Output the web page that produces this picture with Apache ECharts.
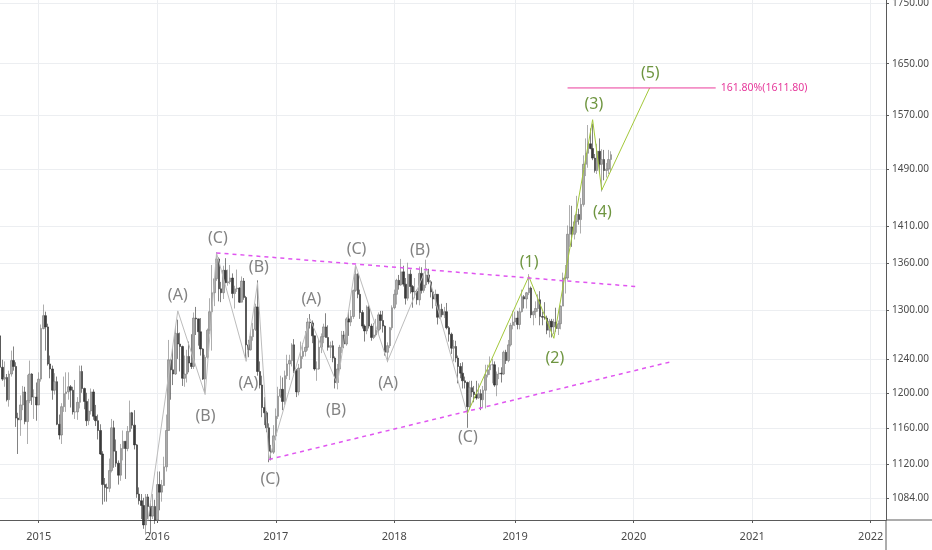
<!DOCTYPE html>
<html>
<head>
<meta charset="utf-8">
<script src="https://cdn.jsdelivr.net/npm/echarts@6/dist/echarts.min.js"></script>
<style>
  html, body { margin: 0; padding: 0; background: #fff; }
  #chart { width: 932px; height: 550px; }
</style>
</head>
<body>
<div id="chart"></div>
<script>
// weekly gold bars, one row per week: [open, high, low, close]
const start2014 = '2014-09-01';
const bars2014 = [
  [1287,1287,1263,1268],[1268,1270,1228,1230],[1230,1239,1214,1216],[1216,1237,1207,1218],[1218,1222,1190,1192],
  [1192,1226,1184,1222],[1222,1250,1219,1238],[1238,1255,1226,1231],[1231,1236,1161,1171],
  [1171,1177,1131,1169],[1169,1197,1151,1186],[1186,1208,1180,1201],[1201,1207,1164,1167],
  [1167,1221,1142,1191],[1191,1238,1188,1222],[1222,1223,1186,1195],[1195,1204,1170,1195],[1195,1212,1168,1186]
];
const start2015 = '2015-01-05';
const bars2015 = [
  [1186,1224,1186,1216],[1216,1282,1213,1277],[1277,1307,1276,1293],[1293,1298,1250,1279],
  [1279,1283,1232,1234],[1234,1244,1217,1228],[1228,1232,1192,1203],[1203,1223,1198,1213],
  [1213,1219,1163,1164],[1164,1175,1147,1152],[1152,1188,1142,1184],[1184,1219,1178,1199],[1199,1224,1178,1201],
  [1201,1224,1192,1207],[1207,1209,1183,1203],[1203,1207,1175,1178],[1178,1215,1170,1178],
  [1178,1195,1169,1189],[1189,1232,1182,1225],[1225,1232,1200,1205],[1205,1206,1181,1190],
  [1190,1200,1162,1168],[1168,1193,1163,1179],[1179,1205,1175,1201],[1201,1204,1169,1173],[1173,1186,1162,1168],
  [1168,1175,1147,1157],[1157,1164,1130,1131],[1131,1134,1077,1098],[1098,1105,1080,1095],
  [1095,1099,1080,1094],[1094,1126,1090,1113],[1113,1170,1111,1160],[1160,1168,1116,1134],[1134,1147,1117,1121],
  [1121,1124,1098,1108],[1108,1142,1102,1137],[1137,1157,1124,1145],[1145,1145,1104,1137],
  [1137,1162,1134,1156],[1156,1191,1155,1177],[1177,1178,1159,1163],[1163,1180,1136,1141],
  [1141,1142,1084,1088],[1088,1095,1077,1081],[1081,1088,1062,1076],[1076,1084,1052,1056],[1056,1088,1046,1085],
  [1085,1088,1062,1075],[1075,1081,1047,1065],[1065,1088,1062,1075],[1075,1082,1057,1061]
];
const start2016 = '2016-01-04';
const bars2016 = [
  [1061,1112,1060,1098],[1098,1112,1071,1090],[1090,1103,1080,1097],[1097,1128,1097,1117],
  [1117,1175,1112,1157],[1157,1263,1157,1239],[1239,1240,1192,1227],[1227,1253,1209,1222],[1222,1280,1221,1271],
  [1271,1288,1240,1258],[1258,1272,1225,1255],[1255,1256,1208,1217],[1217,1244,1207,1222],
  [1222,1251,1212,1243],[1243,1261,1224,1235],[1235,1270,1228,1231],[1231,1297,1228,1290],
  [1290,1304,1269,1289],[1289,1289,1256,1273],[1273,1290,1244,1252],[1252,1253,1215,1216],[1216,1245,1200,1242],
  [1242,1277,1240,1275],[1275,1315,1270,1298],[1298,1358,1250,1322],[1322,1341,1305,1340],
  [1340,1375,1337,1366],[1366,1368,1311,1327],[1327,1336,1310,1322],[1322,1357,1314,1351],
  [1351,1367,1334,1335],[1335,1352,1331,1336],[1336,1358,1333,1341],[1341,1347,1315,1321],[1321,1331,1302,1327],
  [1327,1352,1323,1328],[1328,1329,1309,1310],[1310,1343,1310,1337],[1337,1341,1313,1316],
  [1316,1318,1241,1257],[1257,1263,1242,1251],[1251,1274,1250,1267],[1267,1284,1262,1276],[1276,1308,1274,1304],
  [1304,1338,1220,1225],[1225,1237,1205,1209],[1209,1220,1172,1183],[1183,1195,1163,1177],
  [1177,1179,1155,1160],[1160,1165,1122,1134],[1134,1141,1124,1133],[1133,1163,1131,1151]
];
const start2017 = '2017-01-02';
const bars2017 = [
  [1151,1182,1146,1173],[1173,1207,1170,1196],[1196,1220,1194,1204],[1204,1218,1180,1190],[1190,1226,1186,1220],
  [1220,1245,1216,1234],[1234,1245,1215,1238],[1238,1259,1231,1257],[1257,1264,1223,1226],
  [1226,1228,1195,1201],[1201,1234,1197,1229],[1229,1261,1228,1243],[1243,1259,1240,1249],
  [1249,1274,1243,1254],[1254,1290,1250,1285],[1285,1295,1277,1284],[1284,1287,1259,1268],
  [1268,1268,1226,1228],[1228,1237,1214,1228],[1228,1264,1227,1254],[1254,1271,1247,1267],[1267,1283,1259,1279],
  [1279,1296,1266,1266],[1266,1281,1250,1254],[1254,1261,1241,1256],[1256,1262,1236,1241],
  [1241,1243,1205,1212],[1212,1234,1204,1228],[1228,1257,1226,1254],[1254,1274,1247,1269],[1269,1274,1253,1258],
  [1258,1291,1256,1289],[1289,1300,1268,1285],[1285,1300,1280,1292],[1292,1326,1289,1325],
  [1325,1357,1323,1346],[1346,1347,1315,1320],[1320,1326,1289,1297],[1297,1300,1277,1280],
  [1280,1282,1261,1274],[1274,1306,1270,1304],[1304,1306,1277,1280],[1280,1283,1262,1266],[1266,1284,1264,1269],
  [1269,1289,1267,1275],[1275,1297,1270,1294],[1294,1299,1276,1287],[1287,1299,1272,1280],
  [1280,1281,1244,1248],[1248,1260,1236,1256],[1256,1279,1253,1278],[1278,1306,1275,1303]
];
const start2018 = '2018-01-01';
const bars2018 = [
  [1303,1326,1301,1320],[1320,1340,1307,1338],[1338,1345,1326,1332],[1332,1366,1331,1349],[1349,1357,1330,1333],
  [1333,1341,1307,1315],[1315,1361,1312,1346],[1346,1352,1321,1330],[1330,1332,1303,1323],
  [1323,1341,1315,1324],[1324,1326,1307,1313],[1313,1356,1306,1347],[1347,1355,1321,1325],
  [1325,1347,1322,1332],[1332,1365,1328,1345],[1345,1353,1333,1336],[1336,1338,1316,1323],[1323,1326,1302,1314],
  [1314,1326,1305,1320],[1320,1320,1282,1291],[1291,1307,1289,1301],[1301,1308,1291,1294],
  [1294,1304,1290,1298],[1298,1309,1276,1278],[1278,1280,1261,1270],[1270,1272,1246,1253],
  [1253,1263,1237,1255],[1255,1262,1236,1241],[1241,1244,1211,1231],[1231,1235,1217,1223],[1223,1236,1205,1214],
  [1214,1219,1205,1212],[1212,1213,1160,1184],[1184,1214,1181,1206],[1206,1214,1195,1201],
  [1201,1208,1189,1198],[1198,1214,1192,1194],[1194,1211,1193,1199],[1199,1204,1180,1192],
  [1192,1208,1183,1203],[1203,1233,1182,1221],[1221,1233,1218,1227],[1227,1243,1221,1233],[1233,1240,1211,1233],
  [1233,1237,1207,1209],[1209,1225,1196,1222],[1222,1230,1216,1223],[1223,1230,1212,1222],
  [1222,1250,1221,1248],[1248,1251,1234,1238],[1238,1263,1236,1257],[1257,1284,1255,1281],[1281,1299,1276,1285]
];
const start2019 = '2019-01-07';
const bars2019 = [
  [1285,1298,1280,1290],[1290,1299,1276,1282],[1282,1303,1276,1298],[1298,1326,1297,1317],
  [1317,1319,1302,1314],[1314,1323,1302,1322],[1322,1346,1319,1328],[1328,1330,1290,1294],
  [1294,1299,1281,1298],[1298,1311,1290,1302],[1302,1320,1298,1313],[1313,1324,1281,1292],
  [1292,1298,1281,1291],[1291,1310,1288,1290],[1290,1293,1270,1275],[1275,1289,1266,1286],[1286,1289,1266,1279],
  [1279,1289,1270,1285],[1285,1303,1273,1277],[1277,1287,1269,1283],[1283,1306,1276,1305],
  [1305,1348,1305,1341],[1341,1358,1321,1341],[1341,1411,1338,1399],[1399,1439,1382,1409],
  [1409,1438,1382,1399],[1399,1425,1392,1416],[1416,1452,1401,1426],[1426,1434,1412,1419],[1419,1449,1400,1440],
  [1440,1510,1437,1497],[1497,1535,1480,1513],[1513,1555,1492,1527],[1527,1550,1519,1520],
  [1520,1557,1503,1506],[1506,1512,1485,1488],[1488,1527,1483,1516],[1516,1535,1484,1497],[1497,1519,1458,1504],
  [1504,1518,1474,1488],[1488,1499,1478,1490],[1490,1518,1483,1504],[1504,1516,1487,1511]
];

// price scale and time scale ticks
const priceTicks = [1084, 1120, 1160, 1200, 1240, 1300, 1360, 1410, 1490, 1570, 1650, 1750];
const yearTicks = ['2015-01-05', '2016-01-04', '2017-01-02', '2018-01-01', '2019-01-07', '2020-01-06', '2021-01-04', '2022-01-03'];

// wave drawing: corrective legs (gray) and impulse legs (green)
const grayWaveDates = ['2015-11-30', '2016-03-07', '2016-05-30', '2016-07-04', '2016-10-03', '2016-11-07', '2016-12-12',
  '2017-04-17', '2017-07-10', '2017-09-04', '2017-12-11', '2018-04-09', '2018-08-13'];
const grayWavePrices = [1046, 1299, 1198, 1374, 1237, 1335, 1125, 1289, 1210, 1358, 1237, 1354, 1176];
const greenWaveDates = ['2018-08-13', '2019-02-18', '2019-05-06', '2019-09-02', '2019-09-30', '2020-02-24'];
const greenWavePrices = [1176, 1343, 1265, 1563, 1460, 1611.8];

// triangle trendlines
const upperLineDates = ['2016-07-04', '2020-01-13'];
const upperLinePrices = [1374, 1330];
const lowerLineDates = ['2016-12-12', '2020-05-04'];
const lowerLinePrices = [1125, 1237];

// fib extension target
const fibDates = ['2019-06-17', '2020-09-14'];
const fibPrice = 1611.8;
const fibText = '161.80%(1611.80)';

// wave labels
const grayLabelText = ['(A)', '(B)', '(C)', '(A)', '(B)', '(C)', '(A)', '(B)', '(C)', '(A)', '(B)', '(C)'];
const grayLabelDates = ['2016-03-07', '2016-05-31', '2016-07-08', '2016-10-10', '2016-11-11', '2016-12-16',
  '2017-04-21', '2017-07-06', '2017-09-07', '2017-12-13', '2018-03-21', '2018-08-15'];
const grayLabelPrices = [1318, 1173, 1394, 1211, 1355, 1103, 1314, 1180, 1378, 1211, 1377, 1149];
const greenLabelText = ['(1)', '(2)', '(3)', '(4)', '(5)'];
const greenLabelDates = ['2019-02-19', '2019-05-09', '2019-09-06', '2019-10-02', '2020-02-26'];
const greenLabelPrices = [1362, 1240, 1586, 1429, 1635];

const DAY = 86400000;
const ts = s => Date.parse(s + 'T00:00:00Z');

const candles = [];
[[start2014, bars2014], [start2015, bars2015], [start2016, bars2016],
 [start2017, bars2017], [start2018, bars2018], [start2019, bars2019]].forEach(([first, rows]) => {
  const t0 = ts(first);
  rows.forEach((r, i) => {
    // echarts order: time, open, close, low, high
    candles.push([t0 + i * 7 * DAY, r[0], r[3], r[2], r[1]]);
  });
});

const pairs = (dates, prices) => dates.map((d, i) => [ts(d), prices[i]]);
const labelPoints = (text, dates, prices) => text.map((t, i) => ({ value: [ts(dates[i]), prices[i]], name: t }));

const GRAY = '#636363';
const GREEN = '#4a7a10';
const FONT = "'Noto Sans', 'DejaVu Sans', sans-serif";
const AXIS = '#5a5a5a';
const GRID = { left: 0, right: 46, top: 0, bottom: 30 };
const W = 932, H = 550;

const chart = echarts.init(document.getElementById('chart'), null, { renderer: 'canvas' });

chart.setOption({
  animation: false,
  backgroundColor: '#ffffff',
  grid: Object.assign({ outerBoundsMode: 'none' }, GRID),
  // price scale and time scale frame lines run on to the page edge
  graphic: [
    { type: 'line', silent: true, z: 10,
      shape: { x1: W - GRID.right, y1: H - GRID.bottom, x2: W, y2: H - GRID.bottom },
      style: { stroke: AXIS, lineWidth: 1 } },
    { type: 'line', silent: true, z: 10,
      shape: { x1: W - GRID.right, y1: H - GRID.bottom, x2: W - GRID.right, y2: H },
      style: { stroke: AXIS, lineWidth: 1 } }
  ],
  xAxis: {
    // plain numeric axis in ms, so year ticks can sit on the first weekly bar of each year
    type: 'value',
    min: ts('2014-09-08'),
    max: ts('2022-02-19'),
    axisLine: { show: true, lineStyle: { color: AXIS, width: 1 } },
    axisTick: { show: true, length: 3, customValues: yearTicks.map(ts), lineStyle: { color: AXIS } },
    axisLabel: {
      customValues: yearTicks.map(ts),
      formatter: v => String(new Date(v).getUTCFullYear()),
      color: '#4a4a4a', fontSize: 11, fontFamily: FONT, margin: 11
    },
    splitLine: { show: true, lineStyle: { color: '#eceef1', width: 1 } }
  },
  yAxis: {
    type: 'log',
    position: 'right',
    min: 1061,
    max: 1755,
    axisLine: { show: true, lineStyle: { color: AXIS, width: 1 } },
    axisTick: { show: true, length: 3, customValues: priceTicks, lineStyle: { color: AXIS } },
    axisLabel: {
      customValues: priceTicks,
      formatter: v => Number(v).toFixed(2),
      color: '#4a4a4a', fontSize: 10, fontFamily: FONT, margin: 6
    },
    splitLine: { show: true, lineStyle: { color: '#eceef1', width: 1 } }
  },
  series: [
    {
      name: 'XAUUSD',
      type: 'candlestick',
      data: candles,
      encode: { x: 0, y: [1, 2, 3, 4] },
      barWidth: 2,
      itemStyle: {
        color: '#ababab',
        color0: '#3a3a3a',
        borderColor: '#777777',
        borderColor0: '#2e2e2e',
        borderWidth: 0.6
      },
      z: 2
    },
    {
      type: 'line', data: pairs(grayWaveDates, grayWavePrices), symbol: 'none',
      lineStyle: { color: '#bcbcbc', width: 1 }, z: 3, silent: true
    },
    {
      type: 'line', data: pairs(greenWaveDates, greenWavePrices), symbol: 'none',
      lineStyle: { color: '#a3c83a', width: 1 }, z: 3, silent: true
    },
    {
      type: 'line', data: pairs(upperLineDates, upperLinePrices), symbol: 'none',
      lineStyle: { color: '#e055f0', width: 1.5, type: [4, 4] }, z: 3, silent: true
    },
    {
      type: 'line', data: pairs(lowerLineDates, lowerLinePrices), symbol: 'none',
      lineStyle: { color: '#e055f0', width: 1.5, type: [4, 4] }, z: 3, silent: true
    },
    {
      type: 'line', data: fibDates.map(d => [ts(d), fibPrice]), symbol: 'none',
      lineStyle: { color: '#ea3c9c', width: 1 }, z: 3, silent: true,
      endLabel: {
        show: true, formatter: fibText, color: '#e6399b',
        fontSize: 10.5, fontFamily: FONT, distance: 5
      }
    },
    {
      type: 'scatter', data: labelPoints(grayLabelText, grayLabelDates, grayLabelPrices),
      symbolSize: 0, z: 4, silent: true,
      label: { show: true, position: 'inside', formatter: p => p.name, color: GRAY, fontSize: 16, fontFamily: FONT }
    },
    {
      type: 'scatter', data: labelPoints(greenLabelText, greenLabelDates, greenLabelPrices),
      symbolSize: 0, z: 4, silent: true,
      label: { show: true, position: 'inside', formatter: p => p.name, color: GREEN, fontSize: 16, fontFamily: FONT }
    }
  ]
});
</script>
</body>
</html>
